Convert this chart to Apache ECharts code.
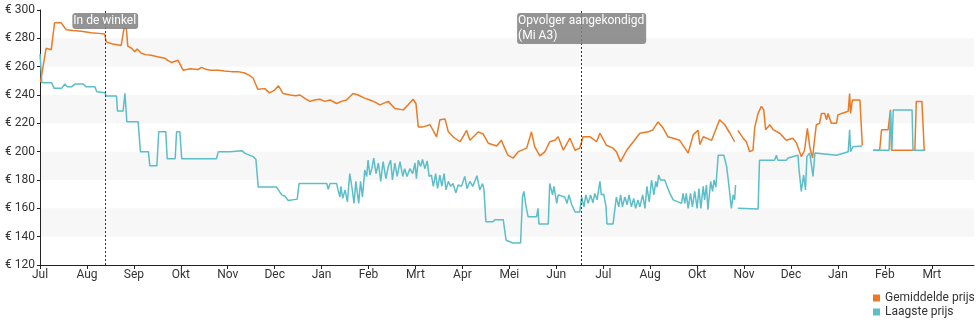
<!DOCTYPE html>
<html>
<head>
<meta charset="utf-8">
<script src="https://cdn.jsdelivr.net/npm/echarts@6/dist/echarts.min.js"></script>
<style>
  html, body { margin: 0; padding: 0; background: #fff; }
  #chart { width: 980px; height: 325px; }
</style>
</head>
<body>
<div id="chart"></div>
<script>
// Month tick labels, one per month slot on the x axis
const monthLabels = ['Jul','Aug','Sep','Okt','Nov','Dec','Jan','Feb','Mrt','Apr','Mei','Jun',
                     'Jul','Aug','Okt','Nov','Dec','Jan','Feb','Mrt'];

// Price axis ticks (euro)
const priceTicks = [120, 140, 160, 180, 200, 220, 240, 260, 280, 300];

// Average price: [month position, euro]; null marks a gap in the record
const avgPrice = [
  [0.01,249],[0.13,273],[0.24,272],[0.31,291],[0.45,291],[0.56,286],[0.70,285.5],[0.88,285],[1.09,284],
  [1.25,283.5],[1.38,283],[1.41,277.5],[1.55,276],[1.73,275],[1.79,287],[1.84,287],[1.87,274.5],[1.95,273],[2.02,270.5],[2.07,272.5],
  [2.16,269.5],[2.25,268.5],[2.37,268],[2.50,267],[2.66,266],[2.72,264.5],[2.80,263],[2.94,264.5],[2.98,263.5],[3.05,257.5],[3.20,258.5],[3.37,258],
  [3.44,259.5],[3.55,258],[3.65,257.5],[3.80,257.5],[3.93,257],[4.08,256.5],[4.22,256.5],[4.36,255.5],[4.45,254],[4.54,252],[4.64,244],[4.79,244.5],
  [4.89,241.5],[5.00,243.5],[5.08,246.5],[5.18,241],[5.33,240],[5.45,239.5],[5.54,240],[5.65,237.5],[5.75,235.5],[5.85,236.5],[5.96,237],
  [6.07,235.5],[6.18,236.5],[6.32,234],[6.42,235.5],[6.53,236.5],[6.67,241],[6.78,240],[6.90,238],[7.03,236.5],[7.14,235],[7.24,233],[7.42,235.5],
  [7.56,230.5],[7.74,229.5],[7.84,233],[7.95,237],[8.01,234],[8.06,217.5],[8.16,217.5],[8.31,219],
  [8.45,210.5],[8.52,222.5],[8.63,223],[8.70,214],[8.82,210],[8.95,207],[9.09,215],[9.16,208],[9.34,214],
  [9.44,212.5],[9.55,206],[9.73,204],[9.83,208],[9.90,202.5],[9.97,197.5],[10.08,195.5],[10.19,200],
  [10.37,202.5],[10.47,214],[10.54,203.5],[10.65,197],[10.76,200],[10.86,207],[10.97,208],[11.04,210.5],
  [11.15,201],[11.29,209.5],[11.40,201],[11.50,202.5],[11.57,210.5],[11.72,210.5],[11.86,207],[11.93,213],
  [12.07,204.5],[12.21,202.5],[12.28,200],[12.37,193],[12.50,201],[12.64,207],[12.78,213],[12.96,214],
  [13.06,215.5],[13.17,221],[13.28,216.5],[13.38,210.5],[13.49,209.5],[13.63,208],[13.81,199],[13.92,212],
  [14.02,215],[14.06,205],[14.13,210.5],[14.31,208],[14.48,222.5],[14.59,219],[14.70,213],[14.80,207],
  [14.84,null],
  [14.87,215],[14.98,209.5],[15.05,207],[15.12,200],[15.19,201],[15.23,217.5],[15.30,227],[15.37,232],
  [15.42,229.5],[15.46,215.5],[15.55,219],[15.62,215.5],[15.76,213],[15.90,208],[16.04,209.5],[16.12,206],
  [16.22,196.5],[16.29,201],[16.35,216.5],[16.40,203.5],[16.46,195.5],[16.51,210.5],[16.54,219],[16.61,220],
  [16.65,227],[16.72,227],[16.76,222.5],[16.79,227],[16.86,220],[16.97,220],[17.00,226],[17.08,227],
  [17.22,228.5],[17.25,241],[17.27,227],[17.31,236.5],[17.47,236.5],[17.52,204.5],
  [17.6,null],
  [17.75,201],[17.89,201],[17.93,215.5],[18.07,215.5],[18.12,229.5],[18.14,201],[18.64,201],
  [18.67,235.5],[18.79,235.5],[18.84,201],[18.86,201]
];

// Lowest price: [month position, euro]; null marks a gap in the record
const lowPrice = [
  [0.00,269],[0.04,248.7],[0.25,248.7],[0.30,244.7],[0.46,244.7],[0.48,243.5],[0.53,247.8],[0.58,245.9],
  [0.68,245.9],[0.75,247.8],[0.92,247.8],[0.98,245.9],[1.17,245.9],[1.21,242.3],[1.38,241.6],[1.41,239.3],
  [1.63,239.3],[1.65,228.7],[1.77,228.7],[1.81,241.2],[1.85,221.2],[2.09,221.2],[2.14,200],[2.31,200],
  [2.34,190],[2.49,190],[2.53,214],[2.68,214],[2.71,195],[2.88,195],[2.91,214],[2.98,214],
  [3.02,195],[3.76,195],[3.80,200],[4.05,200],[4.08,200.7],[4.30,200.7],[4.37,198.8],[4.54,196.5],
  [4.60,194.6],[4.65,175],[5.04,175],[5.15,169.5],[5.22,168.5],[5.29,165.5],[5.33,166.5],[5.48,166.5],
  [5.52,177.5],[6.11,177.5],[6.14,173.5],[6.18,177.5],[6.32,177.5],[6.35,173],[6.39,168],[6.41,175.5],
  [6.45,167],[6.50,173],[6.55,164.5],[6.60,184.5],[6.65,174],[6.69,163.5],[6.73,179],[6.79,163.5],
  [6.83,179],[6.87,168],[6.92,187],[6.96,182.5],[6.99,194],[7.03,183.5],[7.07,188],[7.11,195.5],
  [7.16,184.5],[7.21,192],[7.26,179],[7.31,193],[7.37,181],[7.42,189.5],[7.47,194],[7.51,180],
  [7.56,192],[7.61,182.5],[7.67,193],[7.73,182.5],[7.77,188],[7.82,182.5],[7.88,188],[7.94,184.5],
  [7.99,192],[8.02,181],[8.06,194],[8.11,189.5],[8.15,194.5],[8.20,188],[8.25,193.5],[8.29,182.5],
  [8.34,183.5],[8.38,175.5],[8.43,184.5],[8.47,174],[8.52,183.5],[8.56,175.5],[8.61,184.5],[8.65,173],
  [8.70,179],[8.75,175.5],[8.80,177.5],[8.86,171],[8.91,176.5],[8.98,175.5],[9.05,182.5],[9.10,174],
  [9.16,179],[9.22,175.5],[9.31,183],[9.37,173],[9.43,177.5],[9.46,173],[9.50,150.5],[9.65,150.5],
  [9.69,152],[9.87,152],[9.93,137.5],[10.08,135.5],[10.24,135.5],[10.28,168],[10.31,172],[10.35,162.5],
  [10.40,154],[10.58,154],[10.61,160],[10.63,149],[10.83,149],[10.86,177.5],[10.92,169.5],[10.95,175.5],
  [11.01,163.5],[11.04,169.5],[11.18,168],[11.23,163.5],[11.27,169.5],[11.33,162.5],[11.40,157.5],[11.50,157.5],
  [11.54,168],[11.59,161],[11.63,169.5],[11.68,163.5],[11.73,169.5],[11.78,164],[11.82,170.5],[11.87,166],
  [11.93,179],[11.96,169.5],[12.01,170],[12.06,161],[12.08,149],[12.21,149],[12.25,160],[12.28,168],
  [12.33,161],[12.37,169.5],[12.41,161],[12.46,168],[12.51,162.5],[12.55,169.5],[12.60,161],[12.65,167],
  [12.69,160],[12.74,166],[12.78,161],[12.84,169.5],[12.89,160],[12.93,175.5],[12.98,164.5],[13.03,180],
  [13.08,169.5],[13.12,179],[13.15,175],[13.18,183.5],[13.22,180],[13.31,180],[13.42,170.5],[13.49,166],
  [13.67,163.5],[13.70,170.5],[13.74,163.5],[13.77,170.5],[13.81,160],[13.86,170.5],[13.90,161],[13.95,172],
  [14.00,160],[14.04,174],[14.08,160],[14.13,175.5],[14.16,166],[14.20,176.5],[14.23,159],[14.29,179],
  [14.33,172],[14.36,180],[14.40,175],[14.45,197.5],[14.57,197.5],[14.63,189.5],[14.68,175.5],[14.73,160],
  [14.77,169.5],[14.80,166],[14.82,176.5],
  [14.85,null],
  [14.87,160],[15.30,159.5],[15.33,194],[15.65,194],[15.69,197.5],[15.72,194],[15.90,194],[15.94,195.5],
  [16.15,197.5],[16.17,188],[16.22,172],[16.27,183.5],[16.31,173],[16.34,196.5],[16.40,199],[16.43,198],
  [16.47,182.5],[16.51,199],[16.97,197.5],[17.22,200],[17.25,215.5],[17.27,200],[17.32,203.5],[17.52,204],
  [17.6,null],
  [17.75,201],[18.09,201],[18.12,228.5],[18.15,201],[18.18,229.5],[18.58,229.5],[18.60,201],[18.85,201]
];

// Dated events drawn as dotted vertical markers
const events = [
  { at: 1.385, text: 'In de winkel' },
  { at: 11.545, text: 'Opvolger aangekondigd\n(Mi A3)' }
];

const orange = '#ec7a24';
const teal = '#5bbec8';
const font = 'Roboto, "Noto Sans", sans-serif';

const chart = echarts.init(document.getElementById('chart'), null, { renderer: 'canvas' });

const tickIdx = monthLabels.map((_, i) => i);

chart.setOption({
  animation: false,
  textStyle: { fontFamily: font },
  grid: { left: 40, right: 6, top: 10, bottom: 60, containLabel: false },
  legend: {
    orient: 'vertical',
    left: 873,
    top: 292,
    padding: 0,
    icon: 'rect',
    itemWidth: 7,
    itemHeight: 7,
    itemGap: 2,
    textStyle: { color: '#333', fontSize: 12, fontFamily: font },
    data: ['Gemiddelde prijs', 'Laagste prijs']
  },
  xAxis: {
    type: 'value',
    min: 0,
    max: 19.9,
    interval: 1,
    axisLine: { lineStyle: { color: '#222', width: 1 } },
    axisTick: { show: true, length: 4, customValues: tickIdx, lineStyle: { color: '#222' } },
    axisLabel: {
      color: '#333', fontSize: 12, fontFamily: font, margin: 4,
      customValues: tickIdx,
      formatter: v => monthLabels[Math.round(v)] || ''
    },
    splitLine: { show: false }
  },
  yAxis: {
    type: 'value',
    min: priceTicks[0],
    max: priceTicks[priceTicks.length - 1],
    interval: 20,
    axisLine: { show: true, lineStyle: { color: '#222', width: 1 } },
    axisTick: { show: true, length: 3, lineStyle: { color: '#222' } },
    axisLabel: { color: '#333', fontSize: 12, fontFamily: font, margin: 5, formatter: '€ {value}' },
    splitLine: { show: false },
    splitArea: { show: true, areaStyle: { color: ['rgba(255,255,255,0)', '#f7f7f7'] } }
  },
  series: [
    {
      name: 'Gemiddelde prijs',
      type: 'line',
      data: avgPrice,
      showSymbol: false,
      symbol: 'none',
      connectNulls: false,
      color: orange,
      lineStyle: { color: orange, width: 1.5 },
      markLine: {
        silent: true,
        symbol: 'none',
        lineStyle: { type: [2, 2], color: '#333', width: 1 },
        label: {
          show: true,
          position: 'end',
          distance: [0, -3],
          align: 'center',
          verticalAlign: 'top',
          color: '#fff',
          fontSize: 12,
          fontFamily: font,
          lineHeight: 15,
          backgroundColor: 'rgba(128,128,128,0.85)',
          borderRadius: 3,
          padding: [0, 2, 1, 1],
          formatter: p => p.data.text.split('\n').map(s => '{l|' + s + '}').join('\n'),
          rich: { l: { align: 'left', color: '#fff', fontSize: 12, fontFamily: font, lineHeight: 15 } }
        },
        data: events.map(e => ({ xAxis: e.at, text: e.text }))
      }
    },
    {
      name: 'Laagste prijs',
      type: 'line',
      data: lowPrice,
      showSymbol: false,
      symbol: 'none',
      connectNulls: false,
      color: teal,
      lineStyle: { color: teal, width: 1.5 }
    }
  ]
});
</script>
</body>
</html>
